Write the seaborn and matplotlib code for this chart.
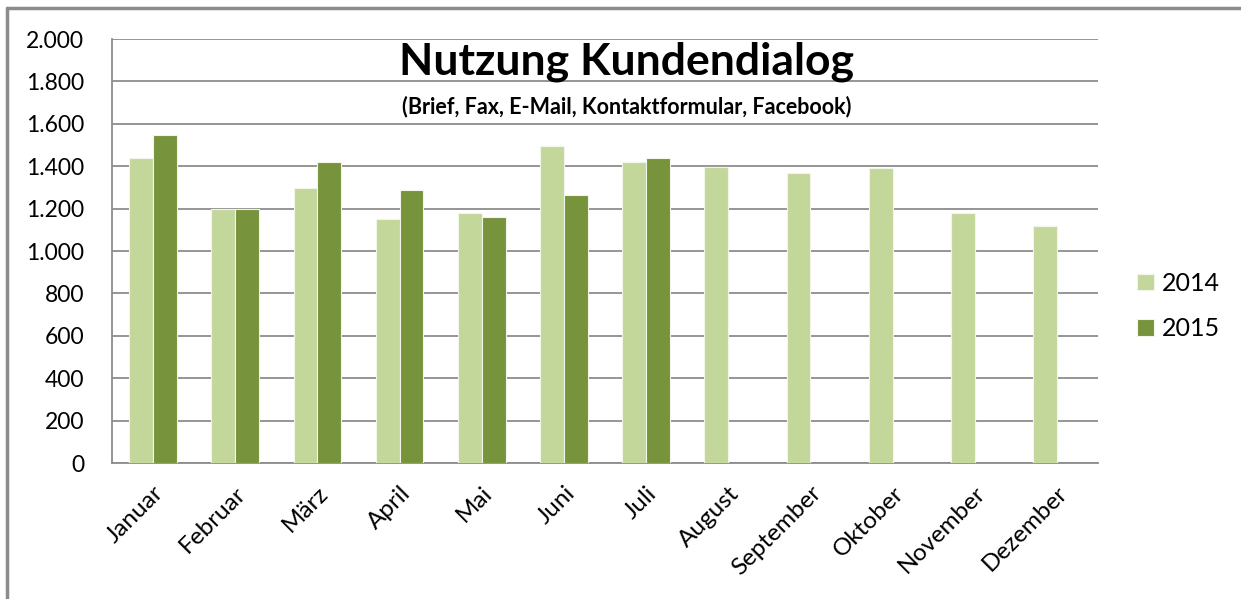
import matplotlib
matplotlib.use("Agg")
import matplotlib.pyplot as plt
from matplotlib.lines import Line2D
from matplotlib.ticker import FuncFormatter, FixedLocator
import seaborn as sns
import numpy as np
import pandas as pd

# values
months = ["Januar", "Februar", "März", "April", "Mai", "Juni", "Juli",
          "August", "September", "Oktober", "November", "Dezember"]
values_2014 = [1437, 1200, 1299, 1149, 1178, 1495, 1420, 1398, 1366, 1390, 1178, 1118]
values_2015 = [1547, 1200, 1420, 1286, 1159, 1263, 1437]
years = ["2014", "2015"]
colors = ["#C4D79B", "#77933C"]

rows = []
for i, m in enumerate(months):
    rows.append((m, "2014", values_2014[i]))
    rows.append((m, "2015", values_2015[i] if i < len(values_2015) else np.nan))
df = pd.DataFrame(rows, columns=["Monat", "Jahr", "Anzahl"])

sns.set_style("white")
plt.rcParams["font.family"] = ["Lato", "DejaVu Sans"]
plt.rcParams["text.color"] = "black"
plt.rcParams["xtick.color"] = "black"
plt.rcParams["ytick.color"] = "black"

fig = plt.figure(figsize=(12.41, 5.99), dpi=100)
ax = fig.add_axes([112 / 1241, 1 - 463 / 599, (1098 - 112) / 1241, (463 - 39) / 599])

sns.barplot(data=df, x="Monat", y="Anzahl", hue="Jahr", hue_order=years,
            palette=colors, saturation=1, width=0.58, edgecolor="#F2F5EA",
            linewidth=0.8, ax=ax, zorder=3)

ax.set_ylim(0, 2000)
ax.set_xlim(-0.5, len(months) - 0.5)
ax.set_yticks(range(0, 2001, 200))
ax.yaxis.set_major_formatter(FuncFormatter(lambda v, p: f"{v:,.0f}".replace(",", ".")))
ax.grid(axis="y", color="#8C8C8C", linewidth=1.3, zorder=0)
ax.set_axisbelow(True)

for s in ["top", "right"]:
    ax.spines[s].set_visible(False)
ax.spines["left"].set_color("#8C8C8C")
ax.spines["bottom"].set_color("#8C8C8C")
ax.spines["left"].set_linewidth(1.3)
ax.spines["bottom"].set_linewidth(1.3)

ax.tick_params(axis="y", length=9, width=1.3, color="#8C8C8C", labelcolor="black",
               labelsize=16.5, pad=11)
ax.tick_params(axis="x", which="major", length=0, labelcolor="black", labelsize=17.5, pad=14)
ax.xaxis.set_minor_locator(FixedLocator(np.arange(-0.5, len(months), 1.0)))
ax.tick_params(axis="x", which="minor", length=9, width=1.3, color="#8C8C8C")
plt.setp(ax.get_xticklabels(), rotation=45, ha="right", rotation_mode="anchor")
ax.set_xlabel("")
ax.set_ylabel("")

handles, labels = ax.get_legend_handles_labels()
ax.legend(handles, labels, loc="center left", bbox_to_anchor=(1.017, 0.37),
          frameon=False, fontsize=18, handlelength=0.65, handleheight=0.65,
          handletextpad=0.35, labelspacing=0.9)

fig.text(0.505, 0.897, "Nutzung Kundendialog", ha="center", va="center",
         fontsize=32, fontweight="bold")
fig.text(0.505, 0.823, "(Brief, Fax, E-Mail, Kontaktformular, Facebook)",
         ha="center", va="center", fontsize=15.5, fontweight="bold")

# screenshot frame
fig.add_artist(Line2D([7 / 1241, 1], [1 - 8 / 599, 1 - 8 / 599], color="#8C8C8C", linewidth=2.5))
fig.add_artist(Line2D([7 / 1241, 7 / 1241], [0, 1 - 8 / 599], color="#8C8C8C", linewidth=2.5))

fig.savefig("out.png", dpi=100)
